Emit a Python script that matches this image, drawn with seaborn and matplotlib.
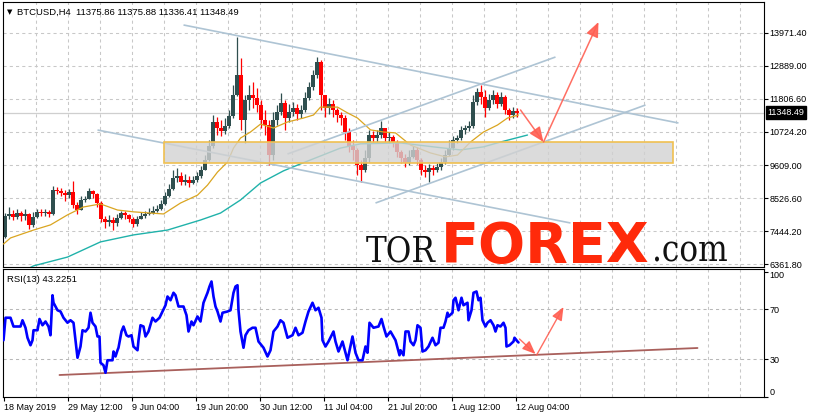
import numpy as np
import pandas as pd
import matplotlib
matplotlib.use("Agg")
import matplotlib.pyplot as plt
import matplotlib.transforms as mtransforms
from matplotlib.patches import Rectangle, FancyArrowPatch
import seaborn as sns

# ---------------- data ----------------
header_symbol = "BTCUSD,H4"
header_ohlc = "11375.86 11375.88 11336.41 11348.49"
last_price = 11348.49
rsi_label = "RSI(13) 43.2251"

# candles aggregated to 4 H4 bars each (bar index counted from 18 May 2019 20:00)
bars_per_candle = 4
candle_open = [
    7250, 7940, 8010, 7910, 8040, 7940, 8010, 7650, 7910, 8080,
    8040, 8080, 8010, 8800, 8770, 8700, 8630, 8730, 8310, 8140,
    8470, 8500, 8770, 8670, 8370, 7840, 7750, 7810, 7710, 7880,
    8040, 7980, 7840, 7680, 7840, 7940, 8010, 8040, 8110, 8170,
    8340, 8600, 8830, 9190, 9260, 9060, 9130, 9030, 9130, 9260,
    9460, 9790, 10250, 11040, 10840, 10740, 10910, 11240, 11930, 12590,
    11110, 11760, 11930, 11830, 11600, 11110, 10940, 9950, 11110, 11370,
    11670, 11170, 11370, 11500, 11300, 11430, 11830, 12190, 12590, 13020,
    11930, 11500, 11630, 11430, 11270, 11170, 10710, 10250, 10120, 9620,
    9460, 9850, 10610, 10510, 10610, 10840, 10510, 10550, 10380, 10050,
    9850, 9690, 9890, 10120, 9790, 9460, 9390, 9520, 9460, 9560,
    9720, 9950, 10180, 10450, 10510, 10780, 10840, 10910, 11700, 12030,
    11860, 11500, 11760, 11930, 11630, 11860, 11430, 11270, 11400]
candle_close = [
    7940, 8010, 7910, 8040, 7940, 8010, 7650, 7910, 8080, 8040,
    8080, 8010, 8800, 8770, 8700, 8630, 8730, 8310, 8140, 8470,
    8500, 8770, 8670, 8370, 7840, 7750, 7810, 7710, 7880, 8040,
    7980, 7840, 7680, 7840, 7940, 8010, 8040, 8110, 8170, 8340,
    8600, 8830, 9190, 9260, 9060, 9130, 9030, 9130, 9260, 9460,
    9790, 10250, 11040, 10840, 10740, 10910, 11240, 11930, 12590, 11110,
    11760, 11930, 11830, 11600, 11110, 10940, 9950, 11110, 11370, 11670,
    11170, 11370, 11500, 11300, 11430, 11830, 12190, 12590, 13020, 11930,
    11500, 11630, 11430, 11270, 11170, 10710, 10250, 10120, 9620, 9460,
    9850, 10610, 10510, 10610, 10840, 10510, 10550, 10380, 10050, 9850,
    9690, 9890, 10120, 9790, 9460, 9390, 9520, 9460, 9560, 9720,
    9950, 10180, 10450, 10510, 10780, 10840, 10910, 11700, 12030, 11860,
    11500, 11760, 11930, 11630, 11860, 11430, 11270, 11400, 11348.49]
candle_high = [
    8040, 8240, 8140, 8170, 8110, 8170, 8040, 8080, 8170, 8170,
    8170, 8140, 8930, 8900, 8870, 8800, 8830, 9100, 8400, 8600,
    8600, 8870, 8800, 8700, 8440, 7940, 7980, 7910, 8010, 8110,
    8110, 8010, 7910, 7940, 8080, 8110, 8210, 8270, 8310, 8470,
    8730, 9000, 9460, 9520, 9390, 9330, 9260, 9260, 9390, 9590,
    9950, 10450, 11270, 11200, 11110, 11170, 11430, 12260, 13840, 13150,
    11930, 12260, 12360, 12160, 11760, 11430, 11110, 11370, 11600, 11990,
    11760, 11630, 11700, 11630, 11600, 12030, 12360, 12750, 13180, 13080,
    11830, 11830, 11760, 11500, 11370, 11270, 10840, 10450, 10180, 9790,
    10120, 10780, 10740, 10780, 11070, 10780, 10710, 10610, 10450, 10120,
    9990, 10120, 10250, 10220, 9850, 9620, 9660, 9620, 9690, 9850,
    10120, 10450, 10580, 10610, 10910, 10940, 11070, 11930, 12160, 12260,
    12090, 11960, 12090, 12030, 12030, 11930, 11500, 11530, 11500]
candle_low = [
    7220, 7840, 7810, 7840, 7780, 7810, 7520, 7580, 7880, 7940,
    7940, 7910, 7980, 8670, 8600, 8440, 8540, 8210, 8010, 8340,
    8400, 8500, 8540, 8240, 7750, 7550, 7610, 7480, 7610, 7840,
    7840, 7750, 7580, 7610, 7840, 7880, 7980, 8010, 8080, 8140,
    8310, 8570, 8800, 9060, 8960, 8960, 8900, 9000, 9060, 9190,
    9460, 9760, 10180, 10610, 10580, 10640, 10840, 11170, 11900, 10780,
    10350, 11430, 11500, 11370, 10840, 10610, 9620, 9790, 10940, 11270,
    10780, 11040, 11240, 11110, 11170, 11370, 11760, 12090, 12490, 11430,
    11200, 11300, 11200, 11040, 10940, 10450, 10050, 9790, 9290, 9060,
    9390, 9720, 10350, 10380, 10510, 10380, 10350, 10220, 9890, 9690,
    9560, 9620, 9850, 9660, 9290, 9230, 9060, 9290, 9390, 9460,
    9660, 9920, 10120, 10350, 10450, 10640, 10740, 10840, 11600, 11630,
    11200, 11430, 11630, 11500, 11570, 11300, 11110, 11170, 11200]

# moving averages (bar index, price)
ma_fast_bar = [0, 7, 30, 47, 64, 80, 97, 114, 130, 160, 177, 194, 204, 214, 224, 230,
               237, 247, 257, 270, 284, 300, 310, 317, 334, 344, 354, 367, 380, 392,
               407, 427, 442, 454, 467, 480, 494, 504, 515]
ma_fast_val = [7020, 7220, 7480, 7650, 7980, 8240, 8340, 8140, 8080, 8010, 8370, 8630,
               8960, 9390, 9720, 10180, 10510, 10710, 10970, 10840, 11040, 11170, 11270,
               11530, 11530, 11340, 11170, 10780, 10710, 10680, 10280, 10020, 9890, 9950,
               10380, 10710, 10940, 11170, 11270]
ma_slow_bar = [27, 30, 64, 97, 130, 164, 197, 217, 237, 257, 280, 297, 317, 337, 357,
               397, 430, 457, 480, 497, 524]
ma_slow_val = [6250, 6300, 6590, 7090, 7320, 7480, 7810, 8040, 8470, 9030, 9430, 9660,
               9920, 10180, 10320, 10350, 10220, 10120, 10220, 10380, 10610]

# RSI(13) (bar index, value)
rsi_bar = [
    0, 2, 7, 10, 17, 19, 22, 24, 27, 29,
    30, 34, 36, 39, 42, 45, 47, 49, 50, 54,
    57, 60, 64, 67, 70, 72, 74, 77, 79, 82,
    85, 87, 89, 92, 94, 96, 97, 100, 102, 104,
    109, 110, 112, 114, 115, 118, 120, 123, 125, 128,
    130, 134, 135, 137, 140, 142, 145, 149, 152, 156,
    159, 162, 164, 167, 170, 172, 175, 180, 183, 185,
    188, 190, 194, 197, 200, 204, 206, 208, 210, 212,
    214, 217, 219, 224, 227, 230, 232, 234, 235, 237,
    240, 242, 245, 249, 252, 255, 260, 264, 267, 270,
    274, 277, 280, 284, 289, 292, 295, 299, 302, 305,
    309, 312, 315, 318, 319, 322, 325, 330, 332, 335,
    339, 342, 344, 349, 352, 355, 359, 362, 364, 366,
    370, 375, 378, 380, 383, 387, 392, 396, 397, 400,
    402, 405, 407, 410, 412, 414, 417, 419, 422, 425,
    429, 432, 435, 437, 440, 442, 444, 445, 449, 450,
    452, 455, 458, 460, 464, 465, 468, 470, 473, 475,
    477, 479, 482, 484, 487, 490, 492, 494, 497, 500,
    502, 503, 506, 510, 511, 514, 515]
rsi_val = [
    45, 63, 63, 56, 56, 61, 55, 47, 41, 45,
    53, 53, 62, 57, 60, 56, 49, 81, 75, 69,
    68, 63, 59, 61, 59, 45, 31, 40, 53, 52,
    55, 67, 59, 56, 48, 48, 27, 25, 19, 29,
    29, 36, 32, 37, 39, 52, 56, 49, 48, 49,
    40, 37, 45, 57, 56, 48, 52, 63, 60, 63,
    68, 73, 80, 77, 83, 81, 72, 72, 65, 52,
    60, 57, 64, 60, 75, 83, 88, 92, 80, 72,
    68, 60, 67, 68, 69, 83, 88, 89, 69, 52,
    39, 49, 53, 55, 55, 44, 39, 32, 37, 52,
    56, 61, 59, 47, 49, 55, 49, 51, 60, 68,
    75, 69, 71, 63, 45, 40, 44, 52, 44, 36,
    44, 35, 29, 48, 35, 29, 29, 40, 35, 59,
    55, 56, 62, 56, 48, 52, 45, 33, 37, 33,
    52, 52, 44, 41, 45, 57, 55, 36, 37, 40,
    47, 41, 43, 55, 55, 60, 67, 64, 67, 77,
    79, 69, 79, 73, 75, 61, 69, 83, 84, 77,
    79, 61, 56, 59, 61, 57, 52, 57, 56, 59,
    55, 40, 41, 44, 47, 44, 43.2251]

# analyst drawings: (bar, price) endpoints
channel_lines = [((180, 14235), (675, 11006)),
                 ((94, 10776), (567, 7713)),
                 ((284, 9985), (552, 13180)),
                 ((372, 8371), (642, 11599))]
zone_bars = (160, 669)
zone_prices = (9705, 10364)
price_arrows = [((517, 11435), (540, 10381)), ((540, 10381), (595, 14333))]
rsi_trend = ((56, 17.2), (694, 38.8))
rsi_arrows = [((516, 46), (532, 34)), ((533, 33), (560, 71.6))]

price_ticks = [13971.40, 12889.00, 11806.60, 10724.20, 9609.00, 8526.60, 7444.20, 6361.80]
price_tick_labels = ["13971.40", "12889.00", "11806.60", "10724.20", "9609.00",
                     "8526.60", "7444.20", "6361.80"]
rsi_ticks = [100, 70, 30, 0]
rsi_levels = [70, 30]
date_tick_bars = [0, 64, 128, 192, 256, 320, 384, 448, 512]
date_tick_labels = ["18 May 2019", "29 May 12:00", "9 Jun 04:00", "19 Jun 20:00",
                    "30 Jun 12:00", "11 Jul 04:00", "21 Jul 20:00", "1 Aug 12:00",
                    "12 Aug 04:00"]

# ---------------- style ----------------
sns.set_theme(style="white")
plt.rcParams['font.family'] = ['Liberation Sans', 'DejaVu Sans']
plt.rcParams['axes.linewidth'] = 0.8

W, H = 815, 419
fig = plt.figure(figsize=(W / 100, H / 100), dpi=100)
fig.patch.set_facecolor("white")


def box(x0, y0, x1, y1):
    return [x0 / W, 1 - y1 / H, (x1 - x0) / W, (y1 - y0) / H]


ax = fig.add_axes(box(2.5, 2, 763.5, 266.5))
ax2 = fig.add_axes(box(2.5, 269, 763.5, 397))

XMIN, XMAX = -1, 760
GRID_STEP = 32
grid_col = "#c8c8c8"
dash = (0, (3, 3))

for a in (ax, ax2):
    a.set_facecolor("white")
    for s in a.spines.values():
        s.set_color("black")
        s.set_linewidth(0.8)
    for gx in np.arange(GRID_STEP, XMAX, GRID_STEP):
        a.axvline(gx, color=grid_col, lw=0.75, ls=dash, zorder=0)

for p in price_ticks:
    ax.axhline(p, color=grid_col, lw=0.75, ls=dash, zorder=0)
for lv in rsi_levels:
    ax2.axhline(lv, color="#b8b8b8", lw=0.75, ls=dash, zorder=0)

# ---------------- candles ----------------
o = np.array(candle_open, float)
c = np.array(candle_close, float)
hi = np.array(candle_high, float)
lo = np.array(candle_low, float)
t = np.arange(len(c)) * bars_per_candle + (bars_per_candle - 1) / 2
cols = np.where(c >= o, "#2f4f4f", "#ff0000")
ax.vlines(t, np.minimum(lo, np.minimum(o, c)), np.maximum(hi, np.maximum(o, c)),
          colors=cols, lw=0.9, zorder=2)
ax.bar(t, np.maximum(np.abs(c - o), 35), bottom=np.minimum(o, c), width=3.5,
       color=cols, edgecolor="none", zorder=2)

# moving averages
sns.lineplot(x=ma_slow_bar, y=ma_slow_val, ax=ax, color="#20b2aa", lw=1.0,
             estimator=None, sort=False, legend=False, zorder=3)
sns.lineplot(x=ma_fast_bar, y=ma_fast_val, ax=ax, color="#daa520", lw=0.9,
             estimator=None, sort=False, legend=False, zorder=3)

# channel lines
for (x0, y0), (x1, y1) in channel_lines:
    ax.plot([x0, x1], [y0, y1], color="#aec4d4", lw=1.2, zorder=3,
            solid_capstyle="butt")

# support zone
ax.add_patch(Rectangle((zone_bars[0], zone_prices[0]), zone_bars[1] - zone_bars[0],
                       zone_prices[1] - zone_prices[0], facecolor="#d2d2d2",
                       alpha=0.8, edgecolor="none", zorder=4))
ax.add_patch(Rectangle((zone_bars[0], zone_prices[0]), zone_bars[1] - zone_bars[0],
                       zone_prices[1] - zone_prices[0], facecolor="none",
                       edgecolor="#f0c050", lw=1.2, zorder=4))

# current price line
ax.axhline(last_price, color="#cfcfcf", lw=0.9, zorder=1.5)

arrow_col = "#ff5f52"
for (x0, y0), (x1, y1) in price_arrows:
    ax.add_patch(FancyArrowPatch((x0, y0), (x1, y1),
                                 arrowstyle="-|>,head_length=0.9,head_width=0.38",
                                 mutation_scale=10, color=arrow_col, lw=1.1,
                                 shrinkA=0, shrinkB=0, zorder=6, alpha=0.9))

ax.set_xlim(XMIN, XMAX)
ax.set_ylim(6279.5, 14992)
ax.set_xticks([])
ax.set_yticks(price_ticks)
ax.set_yticklabels(price_tick_labels)
ax.yaxis.tick_right()
ax.tick_params(axis="y", which="both", left=False, right=True, labelleft=False,
               labelright=True, length=3, width=0.8, pad=1.5, labelsize=6.5,
               colors="black")
ax.set_xlabel("")
ax.set_ylabel("")

tr = mtransforms.blended_transform_factory(ax.transAxes, ax.transData)
ax.text(1.0055, last_price, f"{last_price:.2f}", transform=tr, ha="left", va="center",
        fontsize=6.5, color="white", zorder=10,
        bbox=dict(boxstyle="square,pad=0.18", fc="black", ec="black"))

# header
ax.text(0.0055, 0.962, "\u25bc", transform=ax.transAxes, fontsize=5,
        family=["DejaVu Sans"], va="center", ha="left", color="black")
ax.text(0.019, 0.962, f"{header_symbol}  {header_ohlc}", transform=ax.transAxes,
        fontsize=6.8, va="center", ha="left", color="black")

# ---------------- RSI ----------------
sns.lineplot(x=rsi_bar, y=rsi_val, ax=ax2, color="#0000ff", lw=1.9,
             estimator=None, sort=False, legend=False, zorder=3)
(rx0, ry0), (rx1, ry1) = rsi_trend
ax2.plot([rx0, rx1], [ry0, ry1], color="#a9605c", lw=1.3, zorder=2)
for (x0, y0), (x1, y1) in rsi_arrows:
    ax2.add_patch(FancyArrowPatch((x0, y0), (x1, y1),
                                  arrowstyle="-|>,head_length=0.8,head_width=0.33",
                                  mutation_scale=10, color=arrow_col, lw=1.0,
                                  shrinkA=0, shrinkB=0, zorder=6, alpha=0.9))
ax2.set_xlim(XMIN, XMAX)
ax2.set_ylim(-0.4, 102)
ax2.set_xlabel("")
ax2.set_ylabel("")
ax2.set_yticks(rsi_ticks)
ax2.set_yticklabels([str(v) for v in rsi_ticks])
ax2.yaxis.tick_right()
ax2.tick_params(axis="y", left=False, right=True, labelleft=False, labelright=True,
                length=3, width=0.8, pad=1.5, labelsize=6.5, colors="black")
for lbl, v in zip(ax2.get_yticklabels(), rsi_ticks):
    if v == 100:
        lbl.set_va("top")
    elif v == 0:
        lbl.set_va("bottom")
ax2.set_xticks(date_tick_bars)
ax2.set_xticklabels(date_tick_labels, ha="left")
ax2.tick_params(axis="x", bottom=True, length=3, width=0.8, pad=1.5, labelsize=6.5,
                colors="black")
ax2.text(0.0055, 0.92, rsi_label, transform=ax2.transAxes, fontsize=6.8,
         va="center", ha="left", color="black")

# ---------------- watermark ----------------
fig.text(366 / W, 1 - 262 / H, "TOR", fontsize=25, family=["DejaVu Serif"],
         fontstretch="condensed", color="#111111", ha="left", va="baseline", zorder=20)
fig.text(441 / W, 1 - 262 / H, "FOREX", fontsize=40, family=["DejaVu Sans"],
         weight="bold", color="#ff2a0a", ha="left", va="baseline", zorder=20)
fig.text(652 / W, 1 - 262 / H, ".com", fontsize=25, family=["DejaVu Serif"],
         fontstretch="condensed", color="#111111", ha="left", va="baseline", zorder=20)

fig.savefig("out.png", dpi=100)
